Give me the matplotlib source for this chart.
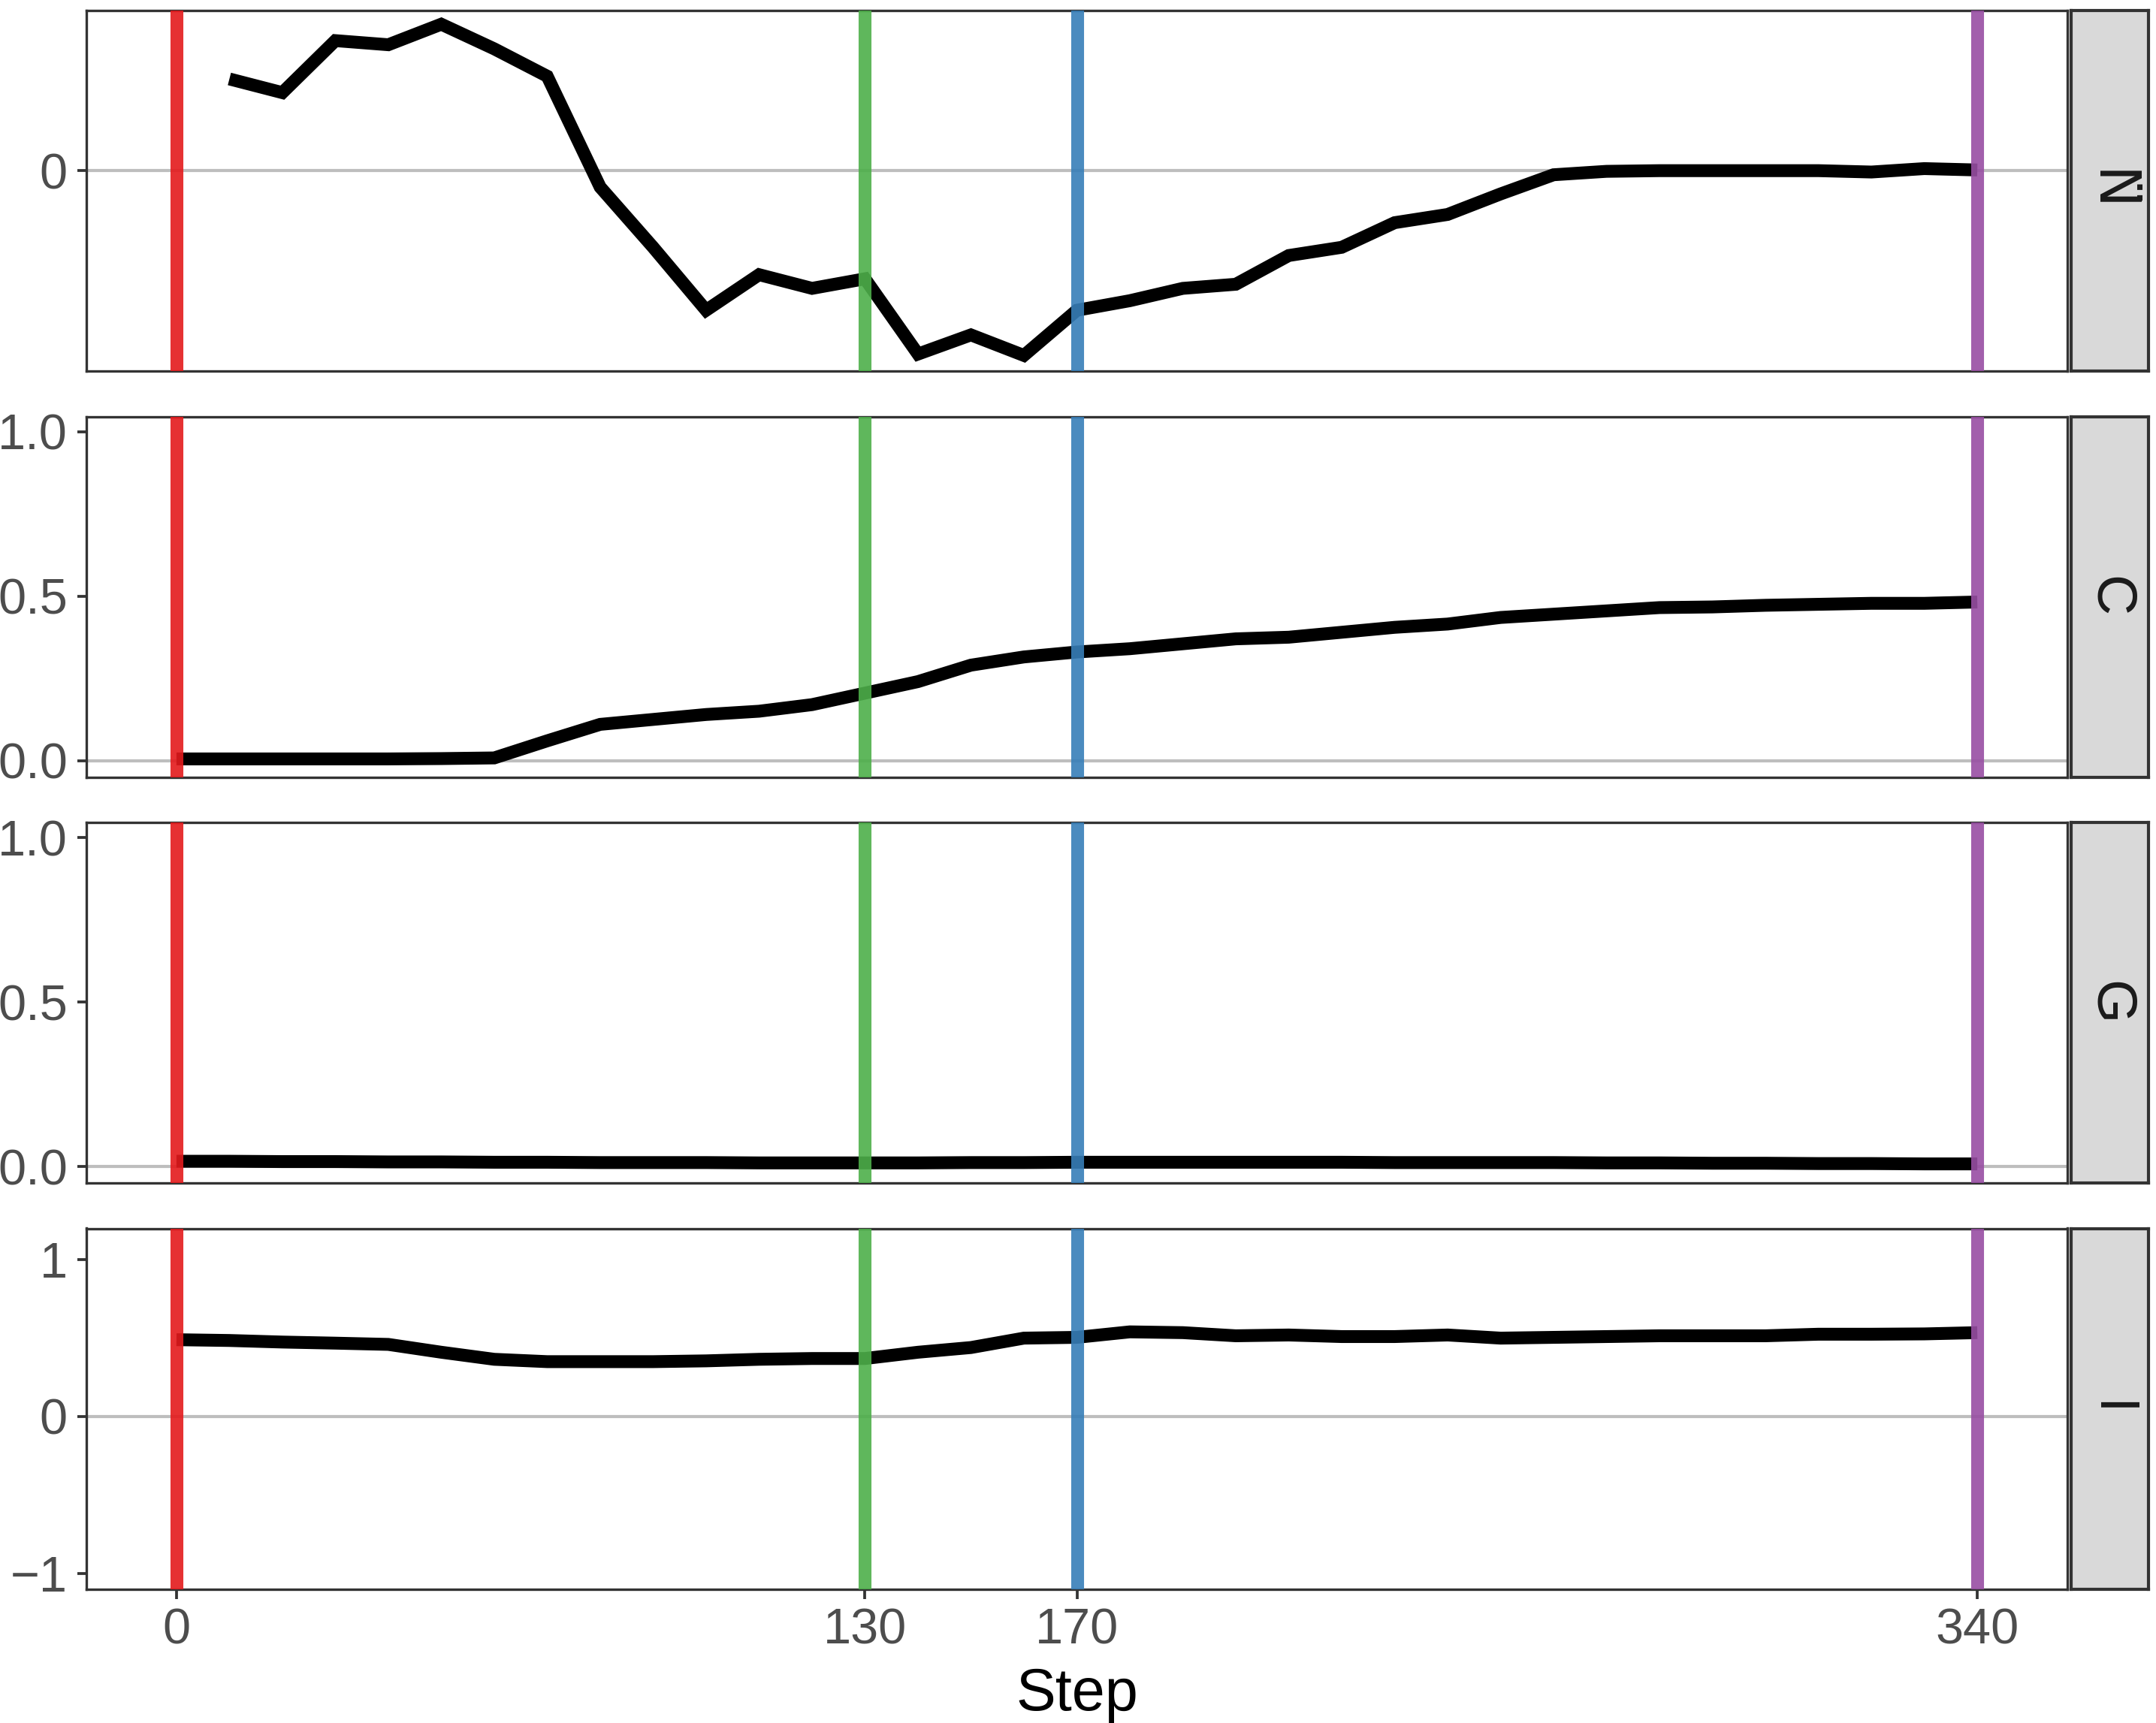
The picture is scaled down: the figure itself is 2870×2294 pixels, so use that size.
import numpy as np
import matplotlib
matplotlib.use('Agg')
import matplotlib.pyplot as plt

plt.rcParams['font.family'] = ['Liberation Sans', 'DejaVu Sans']

# steps (x axis)
steps_top = list(range(10, 341, 10))
steps = list(range(0, 341, 10))

# panel values
n_ddot = [0.67, 0.57, 0.95, 0.92, 1.07, 0.89, 0.69, -0.12, -0.56, -1.02,
          -0.76, -0.86, -0.79, -1.34, -1.20, -1.35, -1.02, -0.95, -0.86, -0.83,
          -0.62, -0.56, -0.38, -0.32, -0.17, -0.03, -0.005, 0.0, 0.0, 0.0,
          0.0, -0.01, 0.015, 0.005]
c_vals = [0.005, 0.005, 0.005, 0.005, 0.005, 0.006, 0.008, 0.06, 0.11, 0.125,
          0.14, 0.15, 0.17, 0.205, 0.24, 0.29, 0.315, 0.33, 0.34, 0.355,
          0.37, 0.375, 0.39, 0.405, 0.415, 0.435, 0.445, 0.455, 0.465, 0.467,
          0.472, 0.475, 0.478, 0.478, 0.482]
g_vals = [0.016, 0.016, 0.015, 0.015, 0.014, 0.014, 0.013, 0.013, 0.012, 0.012,
          0.012, 0.011, 0.011, 0.011, 0.011, 0.012, 0.012, 0.013, 0.013, 0.013,
          0.013, 0.013, 0.013, 0.012, 0.012, 0.012, 0.012, 0.011, 0.011, 0.010,
          0.010, 0.009, 0.009, 0.008, 0.008]
i_vals = [0.49, 0.485, 0.475, 0.468, 0.46, 0.41, 0.365, 0.35, 0.35, 0.35,
          0.355, 0.365, 0.37, 0.37, 0.41, 0.44, 0.50, 0.505, 0.54, 0.535,
          0.515, 0.52, 0.51, 0.51, 0.52, 0.50, 0.505, 0.51, 0.515, 0.515,
          0.515, 0.525, 0.525, 0.527, 0.535]

panel_labels = ['N\u0308', 'C', 'G', 'I']

# marked steps and their colours
marks = [0, 130, 170, 340]
mark_colors = ['#E41A1C', '#4DAF4A', '#377EB8', '#984EA3']

panels = [
    (steps_top, n_ddot, (-1.464, 1.17), [0], ['0']),
    (steps, c_vals, (-0.05, 1.046), [0, 0.5, 1.0], ['0.0', '0.5', '1.0']),
    (steps, g_vals, (-0.05, 1.046), [0, 0.5, 1.0], ['0.0', '0.5', '1.0']),
    (steps, i_vals, (-1.1, 1.2), [-1, 0, 1], ['\u22121', '0', '1']),
]

W, H = 2870, 2294
fig = plt.figure(figsize=(W / 300, H / 300), dpi=300)

left = 115 / W
width = (2752 - 115) / W
ph = 480 / H
strip_left = 2757 / W
strip_w = 103 / W

dark = '#333333'
for i, (xs, ys, ylim, yt, ytl) in enumerate(panels):
    top_px = 14 + i * 540.5
    bottom = 1 - (top_px + 480) / H
    ax = fig.add_axes([left, bottom, width, ph])
    ax.axhline(0, color='#BEBEBE', lw=1.0, zorder=1)
    ax.plot(xs, ys, color='black', lw=4.1, solid_capstyle='butt',
            solid_joinstyle='miter', zorder=2)
    for m, c in zip(marks, mark_colors):
        ax.axvline(m, color=c, lw=4.1, alpha=0.9, zorder=3)
    ax.set_xlim(-17, 357)
    ax.set_ylim(*ylim)
    ax.set_yticks(yt)
    ax.set_yticklabels(ytl)
    ax.set_xticks(marks)
    for s in ax.spines.values():
        s.set_color(dark)
        s.set_linewidth(0.8)
    ax.tick_params(axis='both', colors=dark, width=0.9, length=3,
                   labelsize=16, labelcolor='#4D4D4D', pad=3)
    if i < 3:
        ax.tick_params(axis='x', bottom=False, labelbottom=False)
    else:
        ax.set_xticklabels([str(m) for m in marks])
        ax.set_xlabel('Step', fontsize=19, labelpad=4)

    # facet strip on the right
    sax = fig.add_axes([strip_left, bottom, strip_w, ph])
    sax.set_facecolor('#D9D9D9')
    sax.set_xticks([])
    sax.set_yticks([])
    for s in sax.spines.values():
        s.set_color(dark)
        s.set_linewidth(1.0)
    fam = ['DejaVu Sans'] if i == 0 else ['Liberation Sans', 'DejaVu Sans']
    sax.text(0.5, 0.5, panel_labels[i], rotation=-90, ha='center',
             va='center', fontsize=18, color='#1A1A1A', family=fam,
             transform=sax.transAxes)

fig.savefig('out.png', dpi=300)
